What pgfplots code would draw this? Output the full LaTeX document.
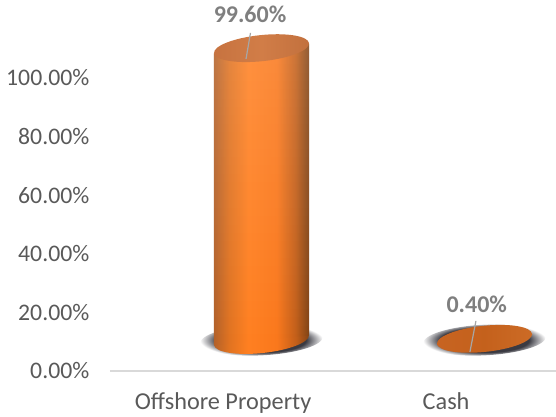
\documentclass[border=0pt]{standalone}
\usepackage{fontspec}
\setmainfont{Carlito}
\usepackage{pgfplots}
\usepackage{pgfplotstable}
\pgfplotsset{compat=1.18}
\usetikzlibrary{fadings}

\definecolor{txt}{HTML}{595959}
\definecolor{lab}{HTML}{7F7F7F}
\definecolor{axl}{HTML}{D9D9D9}
\definecolor{shd}{HTML}{3A3A42}

% shadings: the path's box covers the middle 50bp
\pgfdeclarehorizontalshading{cyl}{100bp}{
  rgb(0bp)=(0.70,0.38,0.16); rgb(25bp)=(0.70,0.38,0.16); rgb(33bp)=(0.88,0.45,0.13); rgb(43bp)=(1,0.50,0.13);
  rgb(58bp)=(0.98,0.47,0.11); rgb(68bp)=(0.76,0.37,0.10); rgb(75bp)=(0.50,0.26,0.08);
  rgb(100bp)=(0.50,0.26,0.08)}
\pgfdeclarehorizontalshading{lidtop}{100bp}{
  rgb(0bp)=(0.78,0.45,0.25); rgb(25bp)=(0.78,0.45,0.25); rgb(50bp)=(0.82,0.49,0.28);
  rgb(75bp)=(0.76,0.44,0.24); rgb(100bp)=(0.76,0.44,0.24)}
\pgfdeclarehorizontalshading{lidlow}{100bp}{
  rgb(0bp)=(0.78,0.39,0.13); rgb(25bp)=(0.78,0.39,0.13); rgb(50bp)=(0.77,0.38,0.11);
  rgb(75bp)=(0.80,0.42,0.15); rgb(100bp)=(0.80,0.42,0.15)}
\pgfdeclareradialshading{blur}{\pgfpoint{0bp}{0bp}}{
  color(0bp)=(shd); color(18bp)=(shd); color(25bp)=(white); color(50bp)=(white)}

% name, half width, half height, rotation, shading
\newcommand\ellmark[5]{\pgfdeclareplotmark{#1}{%
  \pgftransformrotate{#4}%
  \pgfpathellipse{\pgfpointorigin}{\pgfpoint{#2}{0pt}}{\pgfpoint{0pt}{#3}}%
  \pgfshadepath{#5}{0}\pgfusepath{discard}}}
\ellmark{shadow}{46pt}{11.5pt}{3}{blur}
\ellmark{bottom}{35.8pt}{9.8pt}{6}{cyl}
\ellmark{lid}{35.8pt}{9.8pt}{6}{lidtop}
\ellmark{disc}{35.8pt}{9.8pt}{6}{lidlow}

\pgfplotstableread{
x y
0 0
1 0
}\bases

\begin{document}
\begin{tikzpicture}
\path[use as bounding box] (-82.5pt,-34.5pt) rectangle (334.5pt,278.25pt);
\begin{axis}[
  scale only axis,
  width=334.5pt,
  height=275.25pt,
  at={(0pt,0pt)},
  anchor=south west,
  xmin=-0.5, xmax=1.5,
  ymin=0, ymax=125.25,
  clip=false,
  clip marker paths=true,
  axis x line=bottom,
  axis y line=left,
  axis line style={-},
  x axis line style={draw=axl, line width=1.1pt},
  y axis line style={draw=none},
  xtick={0,1},
  xticklabels={Offshore Property,Cash},
  ytick={0,20,40,60,80,100},
  major tick length=0pt,
  tick style={draw=none},
  tick label style={font=\fontsize{17.8}{18}\selectfont, text=txt},
  /pgf/number format/assume math mode=true,
  yticklabel={\pgfmathprintnumber[fixed,fixed zerofill,precision=2]{\tick}\%},
  yticklabel style={xshift=-12pt},
  xticklabel style={yshift=-12.5pt, xshift=1.2pt, font=\fontsize{18.2}{18}\selectfont},
  cyl/.style={xshift=30pt, yshift=23.25pt, only marks, mark=#1, draw=none},
  body/.style={ybar, bar width=71.25pt, bar shift=0pt, draw=none, xshift=30pt},
  lead/.style={draw=black!35, line width=0.9pt},
  vallab/.style={
    only marks, mark=none, draw=none,
    nodes near coords={\pgfmathprintnumber[fixed,fixed zerofill,precision=2,assume math mode=true]{\pgfplotspointmeta}\%},
    every node near coord/.append style={
      anchor=center, text=lab, font=\fontsize{18}{18}\selectfont\bfseries}},
]

% shadows under both cylinders
\addplot[cyl=shadow] table[x=x,y=y] {\bases};

% bottom of the cylinders
\addplot[cyl=bottom] coordinates {(0,0)};

% bodies, slanted like the ellipses
\addplot[body, shading=cyl, yshift=14.2pt, yslant=0.105] coordinates {(0,99.6)};
\addplot[body, fill=white, fill opacity=0.14, path fading=south, yshift=14.2pt, yslant=0.105] coordinates {(0,99.6)};
\addplot[body, shading=lidlow, yshift=-3.25pt, yslant=0.105] coordinates {(1,0.4)};

% lids
\addplot[cyl=lid] coordinates {(0,99.6)};
\addplot[cyl=disc] coordinates {(1,0.4)};

% leader lines
\addplot[lead] coordinates {(0.130,115.4) (0.110,106.5)};
\addplot[lead] coordinates {(1.141,17.1) (1.114,6.5)};

% value labels
\addplot[vallab, xshift=21.4pt, yshift=48.9pt] coordinates {(0,99.6)};
\addplot[vallab, xshift=24.2pt, yshift=49.4pt] coordinates {(1,0.4)};
\end{axis}
\end{tikzpicture}
\end{document}
